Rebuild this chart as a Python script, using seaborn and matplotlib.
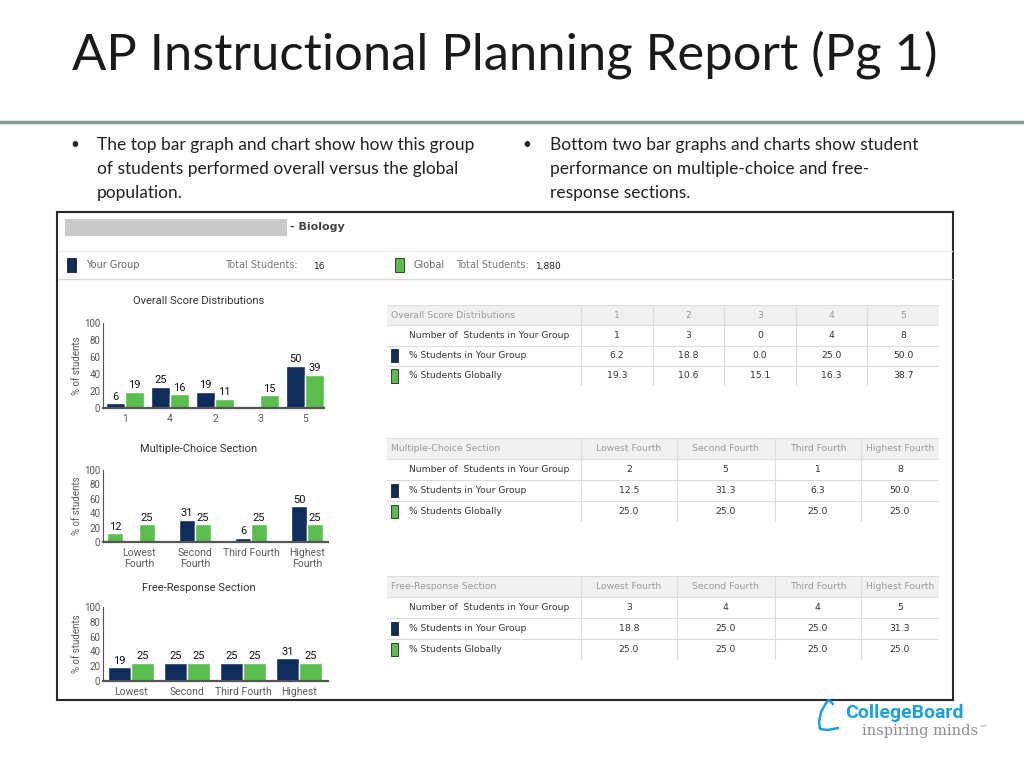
import matplotlib
matplotlib.use('Agg')
import matplotlib.pyplot as plt
from matplotlib.patches import Rectangle
from matplotlib.lines import Line2D
import pandas as pd
import seaborn as sns

# --- Slide text ---
TITLE = 'AP Instructional Planning Report (Pg 1)'
BULLET_LEFT = ['The top bar graph and chart show how this group',
               'of students performed overall versus the global',
               'population.']
BULLET_RIGHT = ['Bottom two bar graphs and charts show student',
                'performance on multiple-choice and free-',
                'response sections.']
SUBJECT = '- Biology'
GROUP_TOTAL = '16'
GLOBAL_TOTAL = '1,880'

# --- Bar chart data (order as shown on the report) ---
overall_labels = ['1', '4', '2', '3', '5']
overall_group = [6, 25, 19, 0, 50]
overall_global = [19, 16, 11, 15, 39]

mc_labels = ['Lowest\nFourth', 'Second\nFourth', 'Third Fourth', 'Highest\nFourth']
mc_group = [12, 31, 6, 50]
mc_global = [25, 25, 25, 25]

fr_labels = ['Lowest', 'Second', 'Third Fourth', 'Highest']
fr_group = [19, 25, 25, 31]
fr_global = [25, 25, 25, 25]

# --- Table data ---
score_cols = ['1', '2', '3', '4', '5']
score_counts = [1, 3, 0, 4, 8]
score_group_pct = [6.2, 18.8, 0.0, 25.0, 50.0]
score_global_pct = [19.3, 10.6, 15.1, 16.3, 38.7]

fourth_cols = ['Lowest Fourth', 'Second Fourth', 'Third Fourth', 'Highest Fourth']
mc_counts = [2, 5, 1, 8]
mc_group_pct = [12.5, 31.3, 6.3, 50.0]
mc_global_pct = [25.0, 25.0, 25.0, 25.0]
fr_counts = [3, 4, 4, 5]
fr_group_pct = [18.8, 25.0, 25.0, 31.3]
fr_global_pct = [25.0, 25.0, 25.0, 25.0]

ROW_NAMES = ['Number of  Students in Your Group', '% Students in Your Group', '% Students Globally']

# --- Style ---
NAVY = '#0f2c5b'
GREEN = '#5cbd4f'
W, H = 1024, 768

sns.set_style('white')
plt.rcParams['font.family'] = ['DejaVu Sans']

fig = plt.figure(figsize=(W / 100, H / 100), dpi=100)


def fx(x):
    return x / W


def fy(y):
    return 1 - y / H


def add_ax(x0, y0, x1, y1):
    return fig.add_axes([x0 / W, 1 - y1 / H, (x1 - x0) / W, (y1 - y0) / H])


def bar_chart(box, labels, group, glob, width, xlim):
    ax = add_ax(*box)
    df = pd.DataFrame({
        'cat': labels + labels,
        'pct': group + glob,
        'who': ['Your Group'] * len(labels) + ['Global'] * len(labels),
    })
    sns.barplot(data=df, x='cat', y='pct', hue='who', order=labels,
                palette=[NAVY, GREEN], width=width, saturation=1,
                errorbar=None, legend=False, ax=ax)
    for cont in ax.containers:
        ax.bar_label(cont, labels=[f'{v:g}' if v > 0 else '' for v in cont.datavalues],
                     padding=1, fontsize=8, color='#111', family='Roboto')
    ax.set_ylim(0, 100)
    ax.set_xlim(*xlim)
    ax.set_yticks([0, 20, 40, 60, 80, 100])
    ax.tick_params(axis='y', length=0, pad=2, labelsize=7, labelcolor='#555')
    ax.tick_params(axis='x', length=0, pad=4, labelsize=7.5, labelcolor='#5a5a5a')
    for lab in ax.get_xticklabels() + ax.get_yticklabels():
        lab.set_family('Roboto')
    ax.set_xlabel('')
    ax.set_ylabel('% of students', fontsize=7, color='#555', family='Roboto', va='center')
    ax.yaxis.set_label_coords(-0.117, 0.5)
    ax.spines['top'].set_visible(False)
    ax.spines['right'].set_visible(False)
    ax.spines['left'].set_color('#555')
    ax.spines['left'].set_linewidth(0.8)
    ax.spines['bottom'].set_color('#555')
    ax.spines['bottom'].set_linewidth(1.6)
    ax.set_facecolor('none')
    return ax


def draw_table(box, widths, header, cols, counts, group_pct, global_pct):
    ax = add_ax(*box)
    total = sum(widths)
    ax.set_xlim(0, total)
    ax.set_ylim(4, 0)
    ax.axis('off')
    ax.axhspan(0, 1, color='#f1f1f1', lw=0)
    for r in range(5):
        ax.axhline(r, color='#dcdcdc', lw=0.8)
    edges = [sum(widths[:i]) for i in range(len(widths) + 1)]
    for e in edges[1:-1]:
        ax.axvline(e, color='#dcdcdc', lw=0.8)
    centers = [(edges[i] + edges[i + 1]) / 2 for i in range(1, len(widths))]
    ax.text(4, 0.5, header, ha='left', va='center', fontsize=6.7, color='#9a9a9a')
    for c, name in zip(centers, cols):
        ax.text(c, 0.5, name, ha='center', va='center', fontsize=6.7, color='#9a9a9a')
    rows = [[str(v) for v in counts],
            [f'{v:.1f}' for v in group_pct],
            [f'{v:.1f}' for v in global_pct]]
    for r, (name, vals) in enumerate(zip(ROW_NAMES, rows), start=1):
        ax.text(22, r + 0.5, name, ha='left', va='center', fontsize=6.6, color='#333')
        for c, v in zip(centers, vals):
            ax.text(c, r + 0.5, v, ha='center', va='center', fontsize=6.7, color='#333')
    for r, col in ((2, NAVY), (3, GREEN)):
        ax.add_patch(Rectangle((4, r + 0.17), 7, 0.66, facecolor=col, edgecolor='#222', lw=0.6))
    return ax


# --- Slide header ---
fig.text(fx(72), fy(55), TITLE, fontsize=36.5, color='#1a1a1a', family='Lato', va='center')
fig.add_artist(Line2D([0, 1], [fy(122), fy(122)], color='#8c9c94', lw=2.5))
for i, line in enumerate(BULLET_LEFT):
    fig.text(fx(97), fy(145 + 24 * i), line, fontsize=12.5, color='#222', family='Lato', va='center')
for i, line in enumerate(BULLET_RIGHT):
    fig.text(fx(550), fy(145 + 24 * i), line, fontsize=12.5, color='#222', family='Lato', va='center')
fig.text(fx(75), fy(145), '•', fontsize=11, color='#222', family='Lato', va='center', ha='center')
fig.text(fx(527), fy(145), '•', fontsize=11, color='#222', family='Lato', va='center', ha='center')

# --- Report panel ---
fig.add_artist(Rectangle((fx(57), fy(700)), fx(953) - fx(57), fy(212) - fy(700),
                         transform=fig.transFigure, fill=False, edgecolor='#2a2a2a', lw=1.5))
fig.add_artist(Rectangle((fx(65), fy(236)), fx(287) - fx(65), fy(219) - fy(236),
                         transform=fig.transFigure, facecolor='#c9c9c9', lw=0))
fig.text(fx(290), fy(227), SUBJECT, fontsize=8, weight='bold', color='#444', va='center')
fig.add_artist(Line2D([fx(58), fx(952)], [fy(251), fy(251)], color='#ececec', lw=1))
fig.add_artist(Line2D([fx(58), fx(952)], [fy(279), fy(279)], color='#d8d8d8', lw=1))

fig.add_artist(Rectangle((fx(67), fy(272)), fx(76) - fx(67), fy(258) - fy(272),
                         transform=fig.transFigure, facecolor=NAVY, edgecolor='#222', lw=0.6))
fig.text(fx(86), fy(265), 'Your Group', fontsize=7, color='#666', va='center')
fig.text(fx(225), fy(265), 'Total Students:', fontsize=7, color='#777', va='center')
fig.text(fx(314), fy(266), GROUP_TOTAL, fontsize=6.5, color='#222', va='center')
fig.add_artist(Rectangle((fx(395), fy(272)), fx(404) - fx(395), fy(258) - fy(272),
                         transform=fig.transFigure, facecolor=GREEN, edgecolor='#222', lw=0.6))
fig.text(fx(413), fy(265), 'Global', fontsize=7, color='#666', va='center')
fig.text(fx(456), fy(265), 'Total Students:', fontsize=7, color='#777', va='center')
fig.text(fx(536), fy(266), GLOBAL_TOTAL, fontsize=6.5, color='#222', va='center')

# --- Bar charts ---
fig.text(fx(199), fy(301), 'Overall Score Distributions', fontsize=8, color='#333',
         family='Roboto', ha='center', va='center')
bar_chart((103, 323, 324, 408), overall_labels, overall_group, overall_global, 0.85, (-0.49, 4.42))

fig.text(fx(199), fy(449), 'Multiple-Choice Section', fontsize=8, color='#333',
         family='Roboto', ha='center', va='center')
ax_mc = bar_chart((103, 470, 328, 542), mc_labels, mc_group, mc_global, 0.57, (-0.64, 3.375))
# the first group bar shows up green and shifted left on the report
first = ax_mc.containers[0][0]
first.set_facecolor(GREEN)
first.set_x(first.get_x() - first.get_width())
for t in ax_mc.texts:
    if t.get_text() == f'{mc_group[0]:g}':
        t.xy = (t.xy[0] - first.get_width(), t.xy[1])

fig.text(fx(199), fy(588), 'Free-Response Section', fontsize=8, color='#333',
         family='Roboto', ha='center', va='center')
bar_chart((103, 607, 328, 681), fr_labels, fr_group, fr_global, 0.82, (-0.5, 3.52))

# --- Tables ---
draw_table((387, 305, 939, 386), [194, 72, 71, 72, 71, 72], 'Overall Score Distributions',
           score_cols, score_counts, score_group_pct, score_global_pct)
draw_table((387, 438, 939, 522), [194, 95, 98, 86, 78], 'Multiple-Choice Section',
           fourth_cols, mc_counts, mc_group_pct, mc_global_pct)
draw_table((387, 576, 939, 660), [194, 95, 98, 86, 78], 'Free-Response Section',
           fourth_cols, fr_counts, fr_group_pct, fr_global_pct)

# --- Logo ---
fig.text(fx(845), fy(713), 'CollegeBoard', fontsize=14, weight='bold', color='#1d9fd9',
         family='Roboto', va='center')
fig.text(fx(862), fy(731), 'inspiring minds', fontsize=10.5, color='#8d8d8d',
         family='DejaVu Serif', va='center')
fig.text(fx(980), fy(727), '™', fontsize=5, color='#8d8d8d', va='center')
fig.add_artist(Line2D([fx(v) for v in (833, 829, 826, 821, 819, 820, 828, 838)],
                      [fy(v) for v in (704, 700, 703, 712, 722, 729, 730, 728)],
                      color='#1d9fd9', lw=1.8))

fig.savefig('out.png', dpi=100)
